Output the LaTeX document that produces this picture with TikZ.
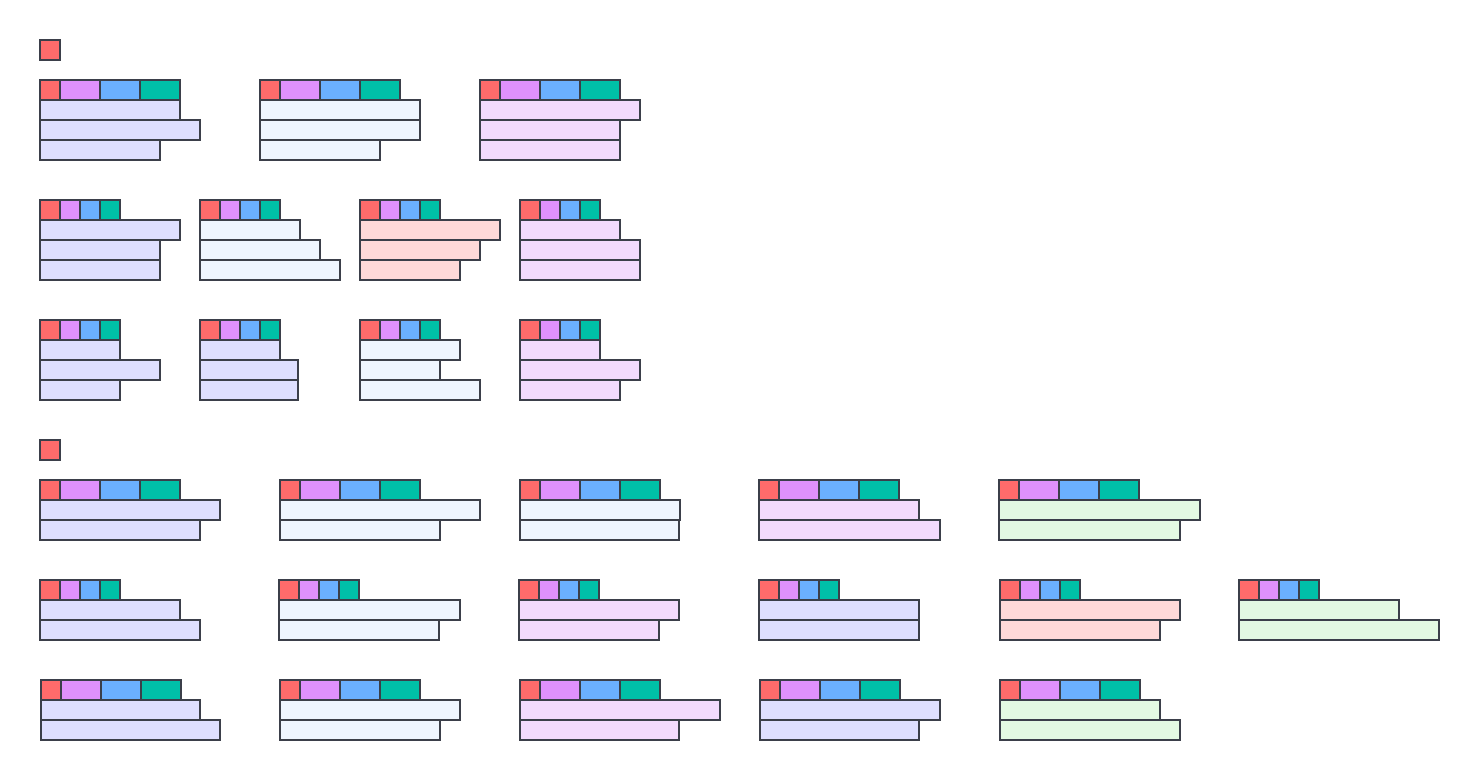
\documentclass[tikz,border=0pt]{standalone}
\usepackage{xcolor}
\usepackage{tikz}
\usetikzlibrary{positioning}

\definecolor{edge}{HTML}{3B3F4A}
\definecolor{hred}{HTML}{FF6B6B}
\definecolor{hpurple}{HTML}{DF91FB}
\definecolor{hblue}{HTML}{6BB0FF}
\definecolor{hteal}{HTML}{00C0A8}
\definecolor{lav}{HTML}{DEDFFF}
\definecolor{ice}{HTML}{EEF5FF}
\definecolor{pink}{HTML}{FFD9D9}
\definecolor{lilac}{HTML}{F3DAFD}
\definecolor{mint}{HTML}{E3F9E3}

% header strips: wide (20,40,40,40) and narrow (20,20,20,20)
\newcommand{\widehead}[2]{%
  \draw[cell=hred] (#1,#2) rectangle ++(20,20);
  \draw[cell=hpurple] (#1+20,#2) rectangle ++(40,20);
  \draw[cell=hblue] (#1+60,#2) rectangle ++(40,20);
  \draw[cell=hteal] (#1+100,#2) rectangle ++(40,20);
}
\newcommand{\narrowhead}[2]{%
  \draw[cell=hred] (#1,#2) rectangle ++(20,20);
  \draw[cell=hpurple] (#1+20,#2) rectangle ++(20,20);
  \draw[cell=hblue] (#1+40,#2) rectangle ++(20,20);
  \draw[cell=hteal] (#1+60,#2) rectangle ++(20,20);
}
% bars below a header
\newcommand{\bars}[4]{%
  \foreach \w [count=\i] in {#4}
    \draw[cell=#3] (#1,#2+20*\i) rectangle ++(\w,20);
}

\begin{document}
\begin{tikzpicture}[
    x=0.025cm, y=-0.025cm,
    cell/.style={draw=edge, fill=#1, line width=0.05cm}
]
\useasboundingbox (0,0) rectangle (1480,780);

% first group
\draw[cell=hred] (40,40) rectangle ++(20,20);

\widehead{40}{80}   \bars{40}{80}{lav}{140,160,120}
\widehead{260}{80}  \bars{260}{80}{ice}{160,160,120}
\widehead{480}{80}  \bars{480}{80}{lilac}{160,140,140}

\narrowhead{40}{200}  \bars{40}{200}{lav}{140,120,120}
\narrowhead{200}{200} \bars{200}{200}{ice}{100,120,140}
\narrowhead{360}{200} \bars{360}{200}{pink}{140,120,100}
\narrowhead{520}{200} \bars{520}{200}{lilac}{100,120,120}

\narrowhead{40}{320}  \bars{40}{320}{lav}{80,120,80}
\narrowhead{200}{320} \bars{200}{320}{lav}{80,98,98}
\narrowhead{360}{320} \bars{360}{320}{ice}{100,80,120}
\narrowhead{520}{320} \bars{520}{320}{lilac}{80,120,100}

% second group
\draw[cell=hred] (40,440) rectangle ++(20,20);

\widehead{40}{480}   \bars{40}{480}{lav}{180,160}
\widehead{280}{480}  \bars{280}{480}{ice}{200,160}
\widehead{520}{480}  \bars{520}{480}{ice}{160,159}
\widehead{759}{480}  \bars{759}{480}{lilac}{160,181}
\widehead{999}{480}  \bars{999}{480}{mint}{201,181}

\narrowhead{40}{580}   \bars{40}{580}{lav}{140,160}
\narrowhead{279}{580}  \bars{279}{580}{ice}{181,160}
\narrowhead{519}{580}  \bars{519}{580}{lilac}{160,140}
\narrowhead{759}{580}  \bars{759}{580}{lav}{160,160}
\narrowhead{1000}{580} \bars{1000}{580}{pink}{180,160}
\narrowhead{1239}{580} \bars{1239}{580}{mint}{160,200}

\widehead{41}{680}   \bars{41}{680}{lav}{159,179}
\widehead{280}{680}  \bars{280}{680}{ice}{180,160}
\widehead{520}{680}  \bars{520}{680}{lilac}{200,159}
\widehead{760}{680}  \bars{760}{680}{lav}{180,159}
\widehead{1000}{680} \bars{1000}{680}{mint}{160,180}
\end{tikzpicture}
\end{document}
